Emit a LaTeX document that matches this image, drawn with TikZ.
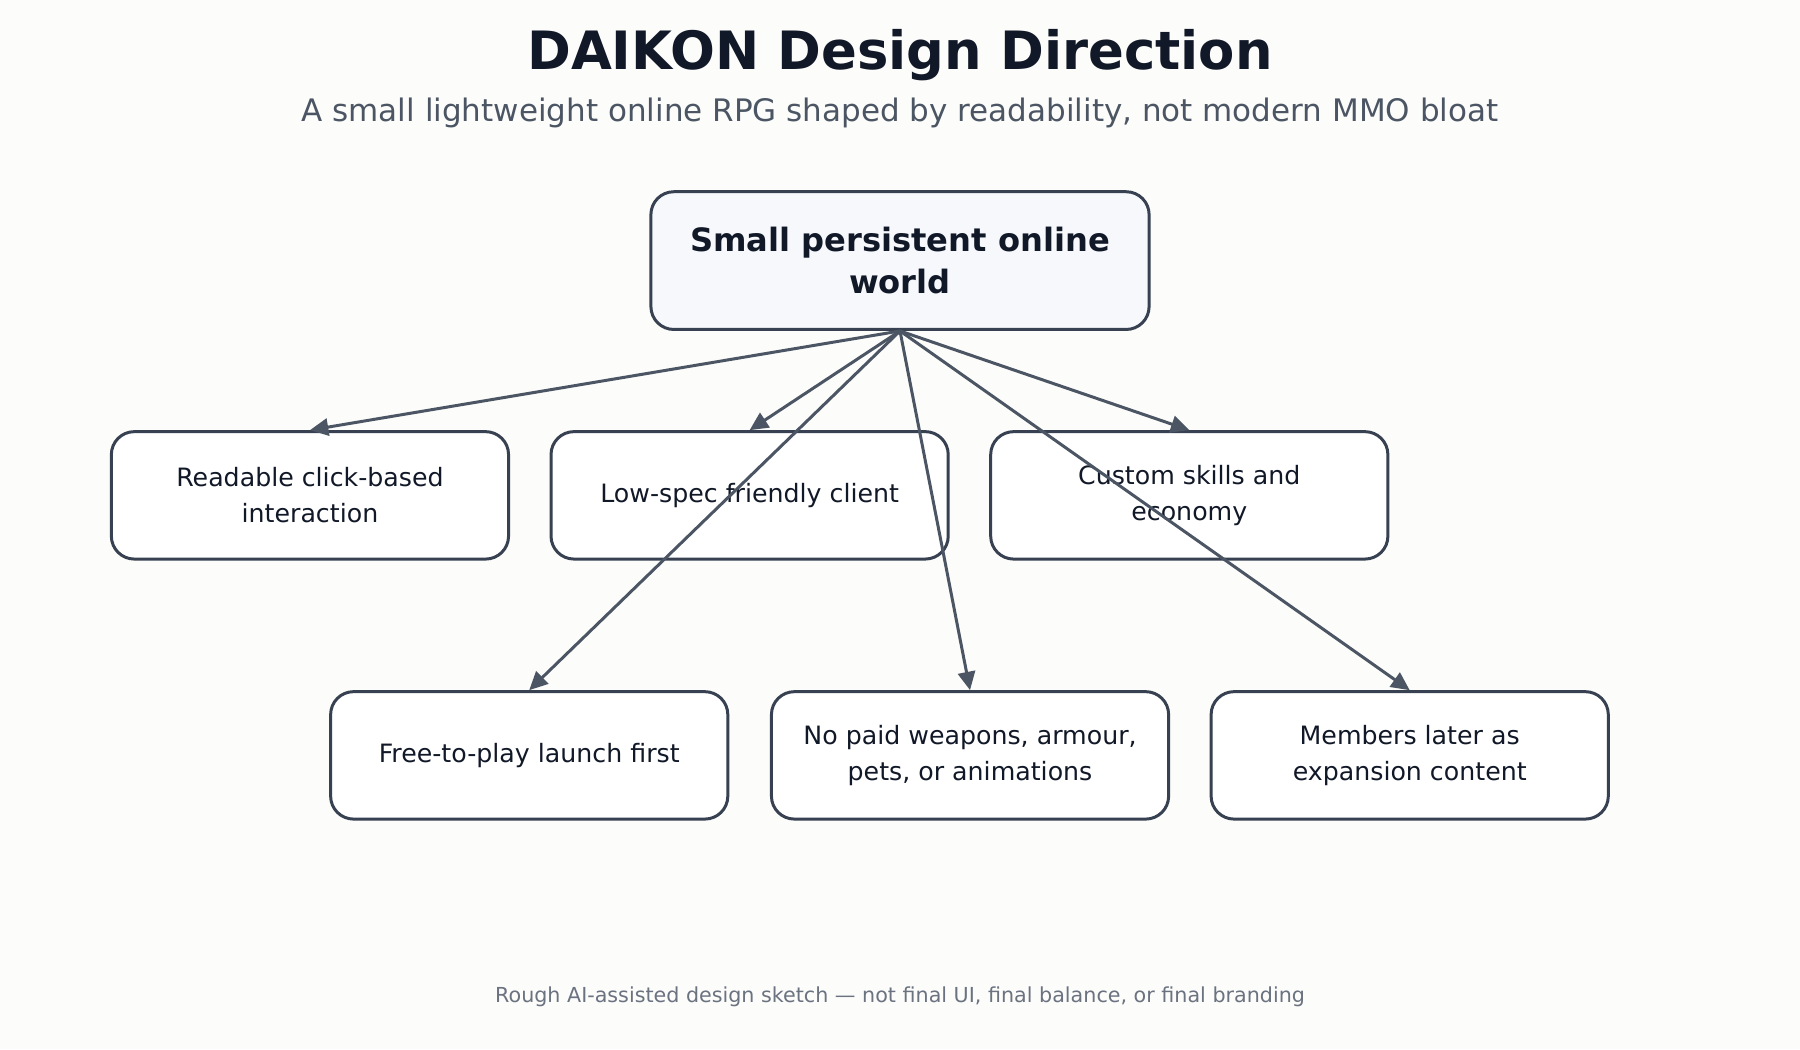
\documentclass[tikz,border=0pt]{standalone}
\usepackage{fontspec}
\setmainfont{DejaVu Sans}
\usetikzlibrary{arrows.meta,positioning}
\definecolor{bgc}{HTML}{FCFCFA}
\definecolor{edge}{HTML}{374151}
\definecolor{arr}{HTML}{4B5563}
\definecolor{ink}{HTML}{111827}
\definecolor{sub}{HTML}{4B5563}
\definecolor{foot}{HTML}{6B7280}
\definecolor{topfill}{HTML}{F6F8FB}
\tikzset{
  idea/.style={draw=edge, line width=2.6pt, rounded corners=20pt, fill=white,
    minimum width=346pt, minimum height=111pt, align=center, text=ink,
    font=\fontsize{22}{31}\selectfont},
  root/.style={idea, fill=topfill, minimum width=434pt, minimum height=120pt,
    font=\bfseries\fontsize{28}{37}\selectfont},
  link/.style={draw=arr, line width=2.6pt, -{Triangle[length=16pt,width=15pt]}}
}
\begin{document}
\begin{tikzpicture}[x=1pt,y=-1pt]
\fill[bgc] (0,0) rectangle (1568,914);
\useasboundingbox (0,0) rectangle (1568,914);

% titles
\node[font=\bfseries\fontsize{46}{50}\selectfont, text=ink] (title) at (784,48) {DAIKON Design Direction};
\node[font=\fontsize{27}{30}\selectfont, text=sub] (subtitle) at (784,98) {A small lightweight online RPG shaped by readability, not modern MMO bloat};

% boxes
\node[root] (world) at (784,227) {Small persistent online\\world};
\node[idea] (click) at (270,431.5) {Readable click-based\\interaction};
\node[idea] (lowspec) at (653,431.5) {Low-spec friendly client};
\node[idea] (skills) at (1036,431.5) {Custom skills and\\economy};
\node[idea] (f2p) at (461,658) {Free-to-play launch first};
\node[idea] (nopaid) at (845,658) {No paid weapons, armour,\\pets, or animations};
\node[idea] (members) at (1228,658) {Members later as\\expansion content};

% links
\foreach \t in {click,lowspec,skills,f2p,nopaid,members}
  \draw[link] (world.south) -- (\t.north);

\node[font=\fontsize{18}{20}\selectfont, text=foot] (footer) at (784,868) {Rough AI-assisted design sketch — not final UI, final balance, or final branding};
\end{tikzpicture}
\end{document}
